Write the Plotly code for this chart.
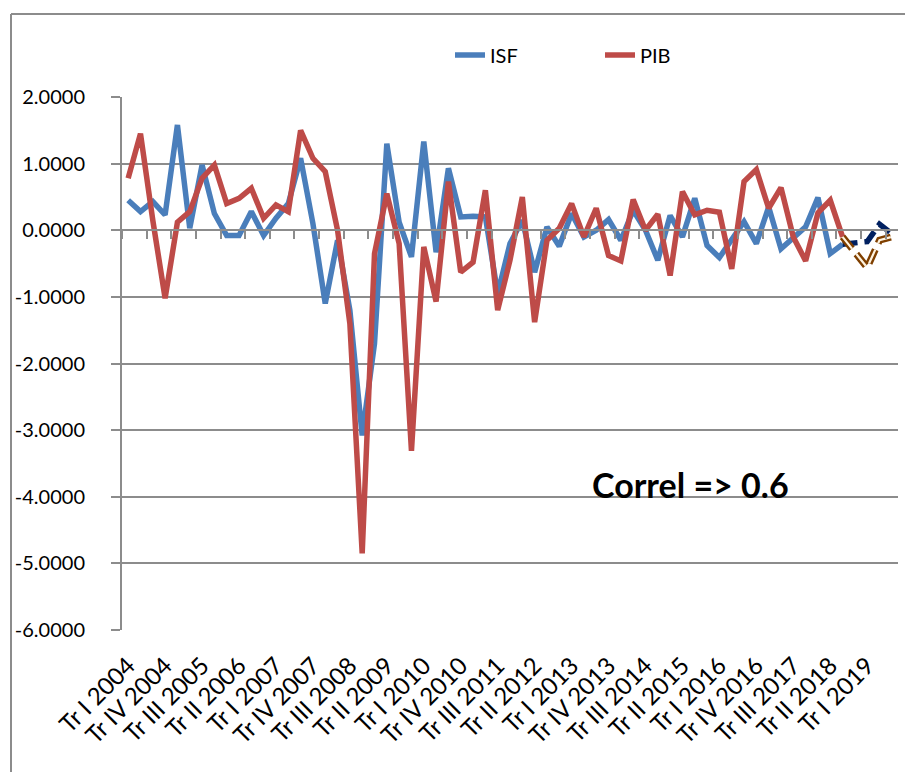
import plotly.graph_objects as go

# ---------------- data ----------------
years = list(range(2004, 2020))
quarter_names = ["Tr I", "Tr II", "Tr III", "Tr IV"]
quarters = [f"{q} {y}" for y in years for q in quarter_names][:63]  # Tr I 2004 .. Tr III 2019

isf = [0.45, 0.28, 0.43, 0.23, 1.58, 0.03, 0.98, 0.25, -0.08, -0.08,
       0.28, -0.08, 0.18, 0.40, 1.08, 0.10, -1.10, -0.15, -1.20, -3.08,
       -1.70, 1.30, 0.12, -0.40, 1.33, -0.33, 0.93, 0.20, 0.21, 0.20,
       -0.95, -0.20, 0.15, -0.63, 0.05, -0.24, 0.25, -0.10, 0.00, 0.16,
       -0.15, 0.30, 0.00, -0.45, 0.22, -0.10, 0.48, -0.23, -0.41, -0.13,
       0.13, -0.20, 0.35, -0.28, -0.12, 0.05, 0.49, -0.35, -0.21, -0.18,
       -0.17, 0.09, -0.05]

pib = [0.78, 1.45, 0.15, -1.02, 0.12, 0.28, 0.78, 0.98, 0.40, 0.48,
       0.63, 0.18, 0.38, 0.28, 1.50, 1.08, 0.88, 0.00, -1.40, -4.85,
       -0.35, 0.55, -0.20, -3.31, -0.25, -1.07, 0.73, -0.63, -0.48, 0.60,
       -1.20, -0.45, 0.50, -1.38, -0.15, 0.03, 0.40, -0.10, 0.33, -0.38,
       -0.46, 0.46, 0.00, 0.24, -0.68, 0.58, 0.23, 0.30, 0.27, -0.58,
       0.73, 0.91, 0.33, 0.64, -0.10, -0.46, 0.26, 0.45, -0.10, -0.33,
       -0.56, -0.15, -0.10]

forecast_start = 58          # index from which the series are drawn dashed
label_step = 3               # every third quarter is labelled
y_ticks = [2, 1, 0, -1, -2, -3, -4, -5, -6]
y_ticktext = [f"{v:.4f}" for v in y_ticks]
correl_text = "Correl => 0.6"

# ---------------- styles ----------------
BLUE = "#4A7EBB"
RED = "#BE4B48"
NAVY = "#002060"
BROWN = "#7F3F00"
GRID = "#8C8C8C"
FONT = "Lato"

OFF = 8                       # page body margin
W, H = 905, 764
PLOT_L, PLOT_R, PLOT_T, PLOT_B = 122, 898, 97, 630   # page coords of plot area
L = PLOT_L - OFF
T = PLOT_T - OFF
R = W - (PLOT_R - OFF)
B = H - (PLOT_B - OFF)
pw, ph = W - L - R, H - T - B


def px_x(page_x):
    return (page_x - OFF - L) / pw


def px_y(page_y):
    return 1 - (page_y - OFF - T) / ph


fig = go.Figure()

fig.add_trace(go.Scatter(x=quarters[:forecast_start + 1], y=isf[:forecast_start + 1],
                         mode="lines", name="ISF",
                         line=dict(color=BLUE, width=5.5)))
fig.add_trace(go.Scatter(x=quarters[:forecast_start + 1], y=pib[:forecast_start + 1],
                         mode="lines", name="PIB",
                         line=dict(color=RED, width=5.5)))
fig.add_trace(go.Scatter(x=quarters[forecast_start:], y=isf[forecast_start:],
                         mode="lines", showlegend=False,
                         line=dict(color=NAVY, width=5.5, dash="15px,7px")))
fig.add_trace(go.Scatter(x=quarters[forecast_start:], y=pib[forecast_start:],
                         mode="lines", showlegend=False,
                         line=dict(color=BROWN, width=7, dash="15px,7px")))
fig.add_trace(go.Scatter(x=quarters[forecast_start:], y=pib[forecast_start:],
                         mode="lines", showlegend=False,
                         line=dict(color="#FFF4E0", width=2.2, dash="15px,7px")))
# helper trace for the zero-line category axis
fig.add_trace(go.Scatter(x=quarters, y=[None] * len(quarters), xaxis="x2",
                         mode="lines", showlegend=False, hoverinfo="skip"))

tick_vals = quarters[::label_step]

fig.update_layout(
    width=W, height=H,
    margin=dict(l=L, r=R, t=T, b=B, autoexpand=False),
    paper_bgcolor="white", plot_bgcolor="white",
    font=dict(family=FONT, color="black"),
    showlegend=True,
    legend=dict(orientation="h", x=px_x(450), xanchor="left",
                y=px_y(55), yanchor="middle",
                font=dict(size=20, family=FONT),
                entrywidth=105, entrywidthmode="pixels",
                bgcolor="rgba(0,0,0,0)"),
    xaxis=dict(type="category", categoryorder="array", categoryarray=quarters,
               range=[-0.5, len(quarters) - 0.5], automargin=False,
               tickmode="array", tickvals=tick_vals, ticktext=tick_vals,
               tickangle=-45, ticks="", showgrid=False, showline=False,
               zeroline=False, tickfont=dict(size=24, family=FONT),
               ticklabelstandoff=16),
    xaxis2=dict(type="category", overlaying="x", matches="x", anchor="free",
                position=0.75, side="bottom", automargin=False,
                categoryorder="array", categoryarray=quarters,
                showticklabels=False, ticks="outside", tickson="boundaries",
                ticklen=8, tickwidth=2, tickcolor=GRID,
                showline=True, linecolor=GRID, linewidth=2,
                showgrid=False, zeroline=False),
    yaxis=dict(range=[-6, 2], tickmode="array", tickvals=y_ticks, ticktext=y_ticktext,
               ticks="outside", ticklen=9, tickwidth=2, automargin=False,
               tickcolor=GRID, showline=True, linecolor=GRID, linewidth=2,
               showgrid=True, gridcolor=GRID, gridwidth=1.6, zeroline=False,
               tickfont=dict(size=20, family=FONT), ticklabelstandoff=22),
    annotations=[dict(text=f"<b>{correl_text}</b>", xref="paper", yref="paper",
                      x=px_x(690), y=px_y(484), xanchor="center", yanchor="middle",
                      showarrow=False, font=dict(size=34, family=FONT, color="black"))],
    shapes=[
        dict(type="line", xref="paper", yref="paper",
             x0=px_x(11), x1=px_x(11), y0=px_y(14), y1=px_y(800),
             line=dict(color=GRID, width=2)),
        dict(type="line", xref="paper", yref="paper",
             x0=px_x(11), x1=px_x(930), y0=px_y(14), y1=px_y(14),
             line=dict(color=GRID, width=2)),
    ],
)

fig.write_html("out.html")
